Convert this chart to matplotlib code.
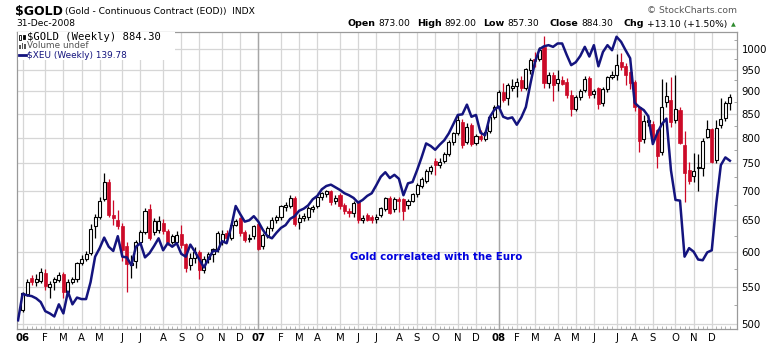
import numpy as np
import matplotlib
matplotlib.use("Agg")
import matplotlib.pyplot as plt
from matplotlib.ticker import FixedLocator, NullFormatter, NullLocator
from matplotlib.patches import Rectangle
from matplotlib.lines import Line2D

# weekly gold candles, week 0 = week of 2 Jan 2006, last = week of 29 Dec 2008
gold_open = [518, 540, 562, 556, 558, 569, 550, 557, 559, 567,
             542, 557, 560, 583, 590, 598, 640, 655, 685, 716,
             659, 651, 641, 609, 580, 586, 616, 631, 668, 631,
             634, 646, 633, 616, 616, 628, 612, 581, 591, 600,
             573, 590, 597, 604, 615, 630, 622, 643, 653, 631,
             620, 624, 644, 609, 626, 637, 651, 655, 672, 674,
             687, 647, 653, 656, 669, 673, 689, 695, 699, 682,
             693, 676, 666, 662, 680, 650, 658, 655, 652, 658,
             669, 687, 668, 686, 685, 675, 683, 694, 709, 718,
             735, 754, 748, 754, 769, 792, 809, 832, 792, 826,
             790, 803, 798, 813, 844, 865, 899, 884, 908, 911,
             926, 906, 949, 975, 975, 1007, 919, 937, 918, 926,
             922, 891, 860, 887, 902, 931, 893, 906, 873, 904,
             933, 937, 969, 958, 945, 922, 864, 797, 833, 828,
             816, 772, 875, 880, 837, 858, 786, 738, 727, 741,
             741, 802, 819, 756, 826, 841, 873]
gold_high = [543, 560, 566, 567, 577, 575, 558, 563, 571, 570,
             560, 563, 585, 596, 601, 644, 660, 690, 732, 721,
             684, 667, 645, 616, 596, 619, 634, 671, 677, 653,
             657, 652, 636, 628, 632, 643, 614, 598, 607, 603,
             594, 600, 606, 633, 635, 634, 645, 652, 656, 634,
             628, 643, 646, 630, 640, 655, 658, 676, 680, 692,
             691, 660, 662, 673, 675, 692, 698, 702, 701, 692,
             696, 679, 670, 683, 683, 658, 662, 658, 660, 672,
             690, 691, 690, 690, 688, 686, 697, 714, 724, 740,
             747, 760, 760, 772, 795, 812, 848, 840, 830, 830,
             808, 815, 815, 846, 868, 902, 918, 918, 928, 930,
             935, 955, 978, 994, 1005, 1034, 945, 945, 950, 935,
             930, 902, 892, 905, 935, 935, 905, 910, 910, 936,
             948, 988, 990, 965, 948, 925, 866, 847, 848, 835,
             818, 927, 922, 932, 937, 865, 813, 752, 770, 769,
             800, 837, 820, 837, 884, 877, 894]
gold_low = [516, 537, 552, 551, 555, 545, 535, 545, 556, 535,
            540, 553, 557, 580, 587, 595, 622, 652, 683, 655,
            643, 636, 586, 543, 562, 577, 610, 628, 619, 626,
            630, 628, 611, 612, 612, 606, 571, 574, 584, 560,
            569, 583, 585, 600, 610, 616, 618, 640, 625, 616,
            615, 620, 603, 605, 622, 633, 645, 650, 666, 670,
            640, 636, 648, 650, 664, 670, 684, 690, 676, 678,
            668, 660, 655, 655, 645, 645, 648, 645, 646, 655,
            665, 660, 664, 664, 650, 668, 680, 690, 705, 714,
            730, 728, 742, 750, 765, 786, 805, 780, 788, 783,
            785, 794, 793, 810, 840, 860, 875, 870, 900, 887,
            900, 903, 940, 957, 970, 906, 906, 877, 900, 915,
            885, 845, 857, 880, 898, 885, 885, 860, 866, 898,
            928, 925, 950, 915, 905, 855, 772, 789, 825, 790,
            741, 766, 865, 823, 830, 787, 681, 712, 715, 699,
            727, 800, 750, 751, 820, 835, 858]
gold_close = [541, 557, 556, 561, 571, 551, 553, 560, 566, 542,
              557, 561, 583, 590, 597, 636, 655, 683, 716, 658,
              654, 640, 603, 582, 584, 616, 631, 666, 621, 648,
              649, 633, 616, 624, 627, 611, 577, 591, 600, 573,
              590, 597, 604, 630, 628, 622, 643, 649, 630, 619,
              622, 640, 605, 626, 637, 651, 655, 673, 676, 687,
              644, 653, 657, 670, 672, 689, 696, 699, 681, 688,
              673, 665, 662, 679, 651, 654, 651, 650, 656, 670,
              687, 662, 686, 683, 666, 683, 694, 710, 721, 736,
              744, 748, 752, 769, 791, 809, 837, 786, 823, 787,
              803, 798, 812, 844, 865, 899, 880, 914, 911, 922,
              906, 952, 973, 970, 998, 919, 937, 914, 927, 917,
              891, 860, 887, 900, 927, 891, 900, 871, 904, 932,
              937, 961, 957, 937, 918, 865, 793, 835, 837, 802,
              765, 865, 889, 833, 860, 789, 732, 718, 735, 743,
              794, 819, 752, 821, 838, 874, 887]

# $XEU weekly closes, starts one week earlier (week -1)
xeu_close = [117.0, 120.5, 120.3, 120.2, 119.9, 119.4, 118.2, 117.9, 117.5, 119.1, 117.9,
             120.8, 119.1, 120.0, 119.8, 119.8, 122.1, 125.6, 126.8, 128.3, 127.0,
             126.4, 128.5, 125.6, 125.5, 124.4, 127.0, 127.5, 125.5, 126.1, 127.1,
             128.2, 126.5, 127.5, 127.0, 127.5, 126.0, 125.6, 127.3, 126.3, 125.2,
             124.1, 125.3, 126.4, 126.4, 127.8, 127.5, 129.8, 132.9, 131.7, 130.6,
             130.8, 131.4, 130.6, 129.4, 128.5, 128.2, 129.0, 129.7, 130.1, 131.0,
             131.4, 132.2, 132.5, 133.0, 133.9, 134.4, 135.4, 135.9, 136.1, 135.7,
             135.3, 134.8, 134.5, 134.1, 133.4, 133.8, 134.4, 134.8, 136.0, 137.3,
             138.0, 137.1, 137.6, 137.0, 134.5, 136.3, 136.5, 138.3, 140.3, 142.5,
             142.1, 141.5, 142.3, 143.0, 144.1, 145.6, 147.1, 147.2, 148.8, 146.8,
             147.1, 144.2, 143.8, 146.7, 147.9, 148.5, 146.8, 146.5, 146.7, 145.5,
             146.7, 148.4, 152.3, 156.0, 158.3, 158.8, 159.0, 158.7, 159.3, 159.3,
             157.3, 155.5, 156.0, 157.1, 158.7, 157.0, 159.0, 155.3, 157.8, 159.0,
             158.1, 160.5, 159.6, 158.1, 156.7, 149.1, 148.4, 147.9, 146.9, 142.4,
             144.2, 145.6, 146.5, 138.3, 133.8, 133.7, 125.6, 126.8, 126.3, 125.2,
             125.1, 126.2, 126.5, 133.3, 139.1, 140.3, 139.78]

month_weeks = [0, 5, 9, 13, 17, 22, 26, 31, 35, 39, 44, 48,
               52, 57, 61, 65, 70, 74, 78, 83, 87, 91, 96, 100,
               105, 109, 113, 118, 122, 126, 131, 135, 139, 144, 148, 152]
month_labels = ['06', 'F', 'M', 'A', 'M', 'J', 'J', 'A', 'S', 'O', 'N', 'D',
                '07', 'F', 'M', 'A', 'M', 'J', 'J', 'A', 'S', 'O', 'N', 'D',
                '08', 'F', 'M', 'A', 'M', 'J', 'J', 'A', 'S', 'O', 'N', 'D']
year_labels = ['06', '07', '08']
price_ticks = [500, 550, 600, 650, 700, 750, 800, 850, 900, 950, 1000]

W, H = 780, 345
RED = '#cc0a28'
NAVY = '#14147e'

fig = plt.figure(figsize=(W / 100, H / 100), dpi=100)
fig.patch.set_facecolor('white')
ax = fig.add_axes([17 / W, 16 / H, 719.7 / W, 297 / H])

o = np.array(gold_open, float)
h = np.array(gold_high, float)
l = np.array(gold_low, float)
c = np.array(gold_close, float)
weeks = np.arange(len(o))
up = c >= o

ax.set_yscale('log')
ax.vlines(weeks[up], l[up], h[up], color='black', lw=0.9, zorder=3)
ax.vlines(weeks[~up], l[~up], h[~up], color=RED, lw=0.9, zorder=3)
ax.bar(weeks[up], (c - o)[up], bottom=o[up], width=0.68,
       facecolor='white', edgecolor='black', lw=0.8, zorder=4)
ax.bar(weeks[~up], (o - c)[~up], bottom=c[~up], width=0.68,
       facecolor=RED, edgecolor=RED, lw=0.5, zorder=4)

ax.set_xlim(-1.23, 157.5)
ax.set_ylim(494.2, 1044.6)

# grid
ax.set_axisbelow(True)
ax.grid(True, which='major', color='#d6d6d6', lw=0.9)
for wk, lab in zip(month_weeks, month_labels):
    if lab in year_labels and wk > 0:
        ax.axvline(wk, color='#a6a6a6', lw=1.0, zorder=0.8)

ax.set_xticks(month_weeks)
ax.set_xticklabels(month_labels)
for t in ax.get_xticklabels():
    if t.get_text() in year_labels:
        t.set_fontweight('bold')
ax.xaxis.set_minor_locator(FixedLocator(weeks))
ax.tick_params(axis='x', which='major', length=0, pad=3, labelsize=7.3)
ax.tick_params(axis='x', which='minor', direction='in', length=2.5,
               width=0.6, color='#aaaaaa')

# euro overlay on its own log scale
ax2 = ax.twinx()
ax2.set_yscale('log')
ax2.plot(np.arange(-1, len(xeu_close) - 1), xeu_close, color=NAVY, lw=1.8,
         solid_joinstyle='round', zorder=5)
ax2.set_ylim(115.87, 161.35)
ax2.set_yticks([])
ax2.yaxis.set_minor_locator(NullLocator())
for s in ax2.spines.values():
    s.set_visible(False)

ax.yaxis.tick_right()
ax.set_yticks(price_ticks)
ax.set_yticklabels([str(v) for v in price_ticks])
ax.yaxis.set_minor_locator(FixedLocator([v + 25 for v in price_ticks]))
ax.yaxis.set_minor_formatter(NullFormatter())
ax.tick_params(axis='y', which='major', length=0, pad=3.5, labelsize=7.3)
ax.tick_params(axis='y', which='minor', direction='in', length=2.5,
               width=0.6, color='#999999', right=True, left=False)
for s in ax.spines.values():
    s.set_color('#9a9a9a')
    s.set_linewidth(0.9)


def put(x, y, s, **kw):
    return fig.text(x / W, 1 - y / H, s, va='center', **kw)


# header
put(15, 11, '$GOLD', fontsize=9, fontweight='bold')
put(65, 11.5, '(Gold - Continuous Contract (EOD))  INDX', fontsize=6.6)
put(16, 24, '31-Dec-2008', fontsize=6.6)
put(737, 10.5, '\u00a9 StockCharts.com', fontsize=6.6, color='#555555', ha='right')

renderer = fig.canvas.get_renderer()
quote = [('Open', '873.00', 347), ('High', '892.00', 416.7), ('Low', '857.30', 482.7),
         ('Close', '884.30', 549.3), ('Chg', '+13.10 (+1.50%)', 623.3)]
for name, val, xpos in quote:
    t = put(xpos, 24, name, fontsize=6.8, fontweight='bold')
    wdt = t.get_window_extent(renderer).width
    put(xpos + wdt + 3, 24, val, fontsize=6.6)
put(736, 24.5, '\u25b2', fontsize=4.5, color='#2e8b2e', ha='right')

# legend box
fig.add_artist(Rectangle((17.5 / W, 1 - 60 / H), 157 / W, 27.5 / H,
                         transform=fig.transFigure, facecolor='white',
                         edgecolor='none', zorder=2))
put(27, 37, '$GOLD (Weekly) 884.30', fontsize=7.6, family='DejaVu Sans Mono', zorder=3)
put(27, 46, 'Volume undef', fontsize=6.4, color='#555555', zorder=3)
put(27, 55, '$XEU (Weekly) 139.78', fontsize=6.4, color=NAVY, zorder=3)
# legend icons
fig.add_artist(Rectangle((19 / W, 1 - 40 / H), 2 / W, 5 / H, transform=fig.transFigure,
                         facecolor='white', edgecolor='black', lw=0.6, zorder=3))
fig.add_artist(Rectangle((22.5 / W, 1 - 39 / H), 2 / W, 4 / H, transform=fig.transFigure,
                         facecolor='black', edgecolor='black', lw=0.6, zorder=3))
for bx, bh in [(19, 4), (21.5, 6), (24, 5)]:
    fig.add_artist(Rectangle((bx / W, 1 - 49 / H), 1.5 / W, bh / H, transform=fig.transFigure,
                             facecolor='#555555', edgecolor='none', zorder=3))
fig.add_artist(Line2D([19 / W, 25.5 / W], [1 - 54.5 / H, 1 - 54.5 / H],
                      transform=fig.transFigure, color=NAVY, lw=2, zorder=3))

# annotation
put(350, 256.5, 'Gold correlated with the Euro', fontsize=7.4, fontweight='bold',
    color='#0000dd')

fig.savefig('out.png', dpi=100)
